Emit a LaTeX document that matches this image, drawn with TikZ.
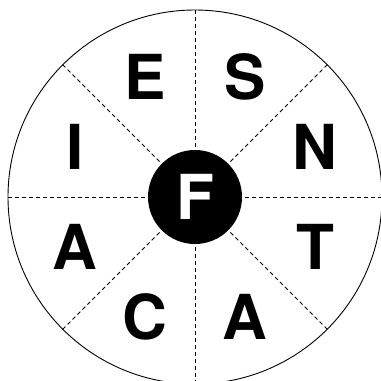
\documentclass[tikz,border=0pt]{standalone}
\usepackage{fontspec}
\setmainfont{TeX Gyre Heros}
\usepackage{tikz}
\usetikzlibrary{calc,positioning}
\tikzset{
  rimcircle/.style={draw,circle,line width=0.9pt,minimum size=374pt,inner sep=0pt},
  hubdisc/.style={circle,fill=black,minimum size=94pt,inner sep=0pt,
    text=white,font=\fontsize{62}{62}\selectfont\bfseries},
  spoke/.style={draw,line width=0.8pt,dash pattern=on 4pt off 3pt,shorten <=3pt},
  tile/.style={inner sep=0pt,font=\fontsize{62}{62}\selectfont\bfseries}
}
\begin{document}
\begin{tikzpicture}[x=1pt,y=1pt]
  \useasboundingbox (0,0) rectangle (381,-381);
  \clip (0,0) rectangle (381,-381);
  \node[rimcircle] (rim) at (195,-197) {};
  \node[hubdisc] (hub) at (rim.center) {F};
  % spokes between the hub and the rim
  \foreach \a in {0,45,...,315}
    \draw[spoke] (hub.\a) -- (rim.\a);
  % the eight letters round the hub
  \foreach \a/\t/\n in {67.5/S/ts,22.5/N/tn,-22.5/T/tt,-67.5/A/ta,
      -112.5/C/tc,-157.5/A/tb,157.5/I/ti,112.5/E/te}
    \node[tile] (\n) at ($(hub)+(\a:130)$) {\t};
\end{tikzpicture}
\end{document}
